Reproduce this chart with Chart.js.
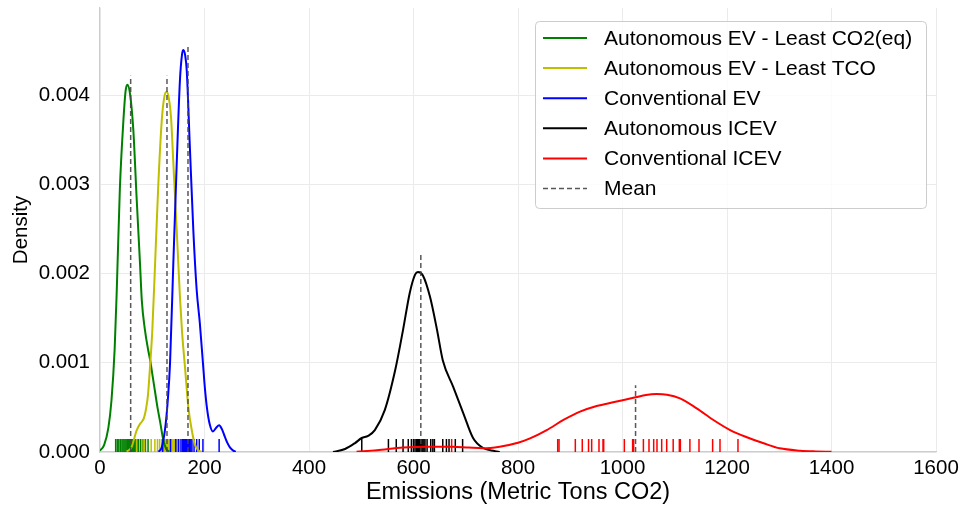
<!DOCTYPE html>
<html><head><meta charset="utf-8">
<script src="https://cdn.jsdelivr.net/npm/chart.js@4.4.1/dist/chart.umd.min.js"></script>
<style>html,body{margin:0;padding:0;background:#fff}#wrap{width:964px;height:508px}</style>
</head><body><div id="wrap"><canvas id="c" width="964" height="508"></canvas></div>
<script>
// ---------- DATA ----------
const seriesNames = ['Autonomous EV - Least CO2(eq)','Autonomous EV - Least TCO','Conventional EV','Autonomous ICEV','Conventional ICEV'];
const seriesColors = ['#008000','#bfbf00','#0000ff','#000000','#ff0000'];
const meanLabel = 'Mean';
const xTicks = [0,200,400,600,800,1000,1200,1400,1600];
const yTicks = [0,0.001,0.002,0.003,0.004];

// KDE curves (emissions, density)
const greenX = [0,8,16,22,28,32,38,44.6,49,52.3,57.4,63.8,70,76.6,80,86,92,96,100,105,110,115,121,127,133];
const greenY = [0.000015,0.00008,0.00027,0.00058,0.00115,0.0018,0.00295,0.0037,0.00405,0.00412,0.00402,0.00361,0.00286,0.00211,0.0017,0.00137,0.00115,0.00103,0.00088,0.00069,0.0005,0.00034,0.00014,0.00003,0.000005];
const yellowX = [51,60,70,76,80,84,88,92,96,100,105,111.6,118,123,127.6,132,136,140.3,146.8,153,157,162.7,169,175.5,181.8,188,195];
const yellowY = [0.000005,0.00005,0.00024,0.00031,0.00034,0.00038,0.00048,0.00065,0.00098,0.00135,0.00205,0.003,0.0037,0.00398,0.00404,0.00396,0.00375,0.00325,0.00249,0.00174,0.00135,0.00095,0.00051,0.00025,0.00008,0.00002,0.000003];
const blueX = [112,118,124.4,130,134,140.3,146.8,153,157,159.5,163,166,172,178.6,185,191,197,201,205,210,216,222,228,233,239,244,249,255,260];
const blueY = [0.000003,0.00005,0.00025,0.0006,0.00099,0.00211,0.00323,0.00417,0.00446,0.00451,0.00445,0.00428,0.00342,0.00249,0.00182,0.00145,0.001,0.0007,0.00048,0.00031,0.00023,0.00027,0.0003,0.00026,0.00017,0.0001,0.00005,0.000015,0.000003];
const blackX = [446,469,488,501,513,526,545,565,580,593,603,608.6,618,631.6,645,656,676,695,714,733,756,765];
const blackY = [0,0.000034,0.0001,0.000157,0.00018,0.000246,0.00047,0.00092,0.00137,0.00179,0.00199,0.00202,0.00198,0.00174,0.00137,0.00103,0.00073,0.00044,0.000157,0.000045,0.00001,0];
const redX = [491,530,580,630,675,705,733,765,800,823,855,887,918.7,950.6,982,1025,1045,1065,1085,1110,1142,1174,1206,1238,1270,1301,1340,1370,1400];
const redY = [0.000003,0.00002,0.00005,0.00006,0.00006,0.00005,0.000042,0.00006,0.000104,0.000153,0.000246,0.000359,0.000452,0.000515,0.000557,0.000613,0.00064,0.00065,0.000643,0.000602,0.00049,0.000359,0.000246,0.000165,0.000098,0.000041,0.000015,0.000007,0.000003];

// rug observations
const greenRug = [30,33,36,39,42,44,46,48,50,52,53,55,57,58,60,62,64,66,68,71,74,78,82,87,92];
const yellowRug = [70,80,85,98,105,110,114,118,121,124,126,128,130,132,134,136,138,140,143,147,152,158,165,172];
const blueRug = [120,135,145,150,155,158,160,162,164,165,166,167,168,169,170,171,172,174,176,180,185,190,197,228];
const blackRug = [501,552,567,580,590,596,600,603,606,608,610,612,614,616,618,620,622,626,633,637,640,656,663,668,680,694];
const redRug = [673,876,878.5,909.7,923,935,941,955,962.7,964,1003.5,1019.4,1021.3,1040,1050.7,1059.7,1066,1075,1084.6,1097,1108.8,1110.7,1129,1146.4,1172.5,1186.6,1221];

// means and the height of each mean marker
const meanValues = [58.7,128.2,168.4,614,1025];
const meanTops = [0.00422,0.00422,0.00456,0.00224,0.00075];

// ---------- BUILD ----------
const curves = [[greenX,greenY],[yellowX,yellowY],[blueX,blueY],[blackX,blackY],[redX,redY]];
const rugs = [greenRug,yellowRug,blueRug,blackRug,redRug];
const FONT = '"Liberation Sans", Arial, Helvetica, sans-serif';
Chart.defaults.font.family = FONT;
Chart.defaults.color = '#000';

const datasets = [];
curves.forEach((c,i)=>{
  datasets.push({
    type:'line', label: seriesNames[i],
    data: c[0].map((x,k)=>({x:x,y:c[1][k]})),
    borderColor: seriesColors[i], borderWidth: 2, pointRadius: 0,
    cubicInterpolationMode: 'monotone', fill: false, order: 10 - i
  });
});
meanValues.forEach((m,i)=>{
  datasets.push({
    type:'line', label: meanLabel,
    data: [{x:m,y:0},{x:m,y:meanTops[i]}],
    borderColor: 'rgba(70,70,70,0.9)', borderWidth: 1.5, borderDash: [5,3],
    pointRadius: 0, fill: false, order: 0
  });
});

const rugPlugin = {
  id: 'rug',
  beforeDatasetsDraw(chart){
    const ctx = chart.ctx, xs = chart.scales.x, ys = chart.scales.y;
    const base = ys.getPixelForValue(0);
    ctx.save();
    ctx.lineWidth = 1.5;
    rugs.forEach((r,i)=>{
      ctx.strokeStyle = seriesColors[i];
      r.forEach(v=>{
        const px = xs.getPixelForValue(v);
        ctx.beginPath(); ctx.moveTo(px, base); ctx.lineTo(px, base - 13); ctx.stroke();
      });
    });
    ctx.restore();
  }
};

const legendPlugin = {
  id: 'boxlegend',
  afterDraw(chart){
    const ctx = chart.ctx, ca = chart.chartArea;
    const w = 391, h = 187;
    const x0 = ca.right - 10 - w, y0 = ca.top + 13;
    ctx.save();
    ctx.beginPath();
    ctx.roundRect(x0+0.5, y0+0.5, w, h, 4);
    ctx.fillStyle = 'rgba(255,255,255,0.85)'; ctx.fill();
    ctx.strokeStyle = '#cccccc'; ctx.lineWidth = 1; ctx.stroke();
    ctx.font = '21px ' + FONT; ctx.textBaseline = 'middle'; ctx.fillStyle = '#000';
    const labels = seriesNames.concat([meanLabel]);
    labels.forEach((t,i)=>{
      const yy = y0 + 17 + i*30.1;
      ctx.beginPath();
      if (i < seriesNames.length){ ctx.setLineDash([]); ctx.strokeStyle = seriesColors[i]; ctx.lineWidth = 2; }
      else { ctx.setLineDash([5,3]); ctx.strokeStyle = 'rgba(70,70,70,0.9)'; ctx.lineWidth = 1.5; }
      ctx.moveTo(x0+8, yy); ctx.lineTo(x0+52, yy); ctx.stroke();
      ctx.setLineDash([]);
      ctx.fillText(t, x0+69, yy+1);
    });
    ctx.restore();
  }
};

new Chart(document.getElementById('c'), {
  data: { datasets: datasets },
  options: {
    responsive: false, animation: false, devicePixelRatio: 1,
    layout: { padding: { top: 8, right: 28, left: 0, bottom: 0 } },
    plugins: { legend: { display: false }, tooltip: { enabled: false } },
    scales: {
      x: {
        type: 'linear', min: 0, max: 1600,
        afterBuildTicks: s => { s.ticks = xTicks.map(v=>({value:v})); },
        afterFit: s => { s.height = 56; s.paddingLeft = 0; s.paddingRight = 0; },
        ticks: { font: { size: 20.5 }, color: '#000', padding: 4, maxRotation: 0, callback: v => String(v) },
        grid: { color: '#ebebeb', drawTicks: false, lineWidth: 1 },
        border: { color: '#cccccc', width: 1.2 },
        title: { display: true, text: 'Emissions (Metric Tons CO2)', font: { size: 23.5 }, color: '#000', padding: { top: 0, bottom: 1 } }
      },
      y: {
        type: 'linear', min: 0, max: 0.00498,
        afterBuildTicks: s => { s.ticks = yTicks.map(v=>({value:v})); },
        afterFit: s => { s.width = 100; s.paddingTop = 0; s.paddingBottom = 0; },
        ticks: { font: { size: 20.5 }, color: '#000', padding: 10, callback: v => Number(v).toFixed(3) },
        grid: { color: '#ebebeb', drawTicks: false, lineWidth: 1 },
        border: { color: '#cccccc', width: 1.2 },
        title: { display: true, text: 'Density', font: { size: 20.5 }, color: '#000', padding: { top: 9, bottom: 0 } }
      }
    }
  },
  plugins: [rugPlugin, legendPlugin]
});
</script>
</body></html>
